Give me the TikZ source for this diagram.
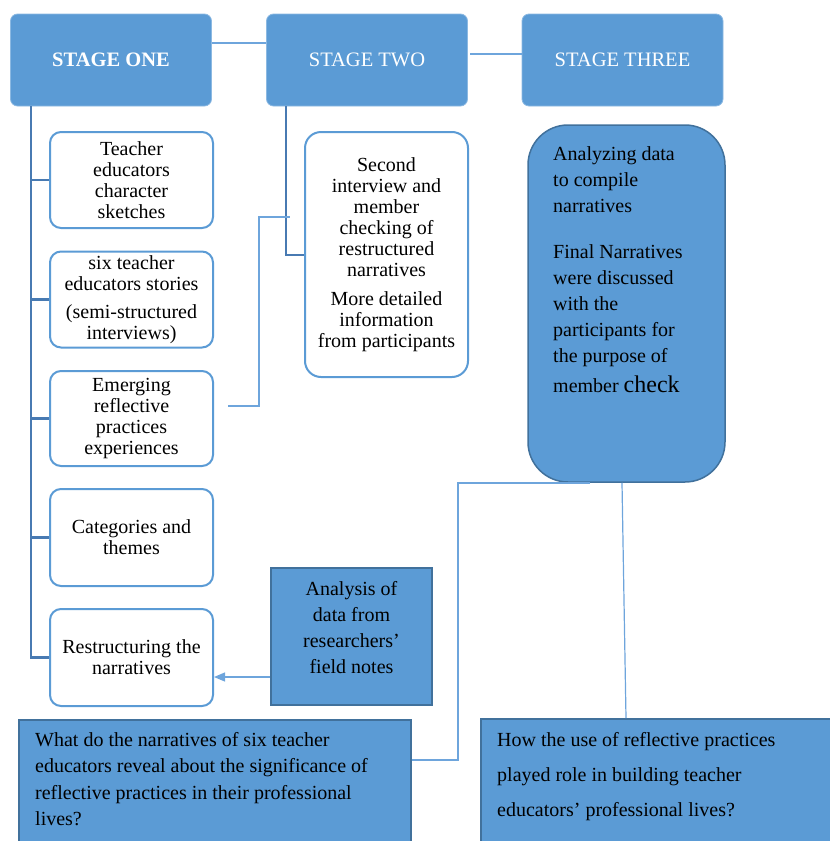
\documentclass[tikz,border=0pt]{standalone}
\usepackage{fontspec}
\setmainfont{Liberation Serif}
\usetikzlibrary{arrows.meta}
\definecolor{bfill}{RGB}{91,155,213}
\definecolor{bdark}{RGB}{65,113,156}
\definecolor{bline}{RGB}{110,165,220}
\definecolor{btrunk}{RGB}{72,122,178}
\begin{document}
\begin{tikzpicture}[x=1pt,y=-1pt,
  stagebox/.style={draw=bfill!70!white, line width=0.8pt, fill=bfill, rounded corners=7pt, text=white,
    minimum width=201pt, minimum height=92pt, inner sep=0pt, font=\fontsize{20.5}{21}\selectfont},
  childbox/.style={draw=bfill, line width=2pt, fill=white, rounded corners=11pt, minimum width=163pt,
    inner sep=0pt, align=center, font=\fontsize{20}{21}\selectfont},
  darkbox/.style={draw=bdark, line width=2pt, fill=bfill, inner sep=0pt},
  boxtext/.style={inner sep=0pt, font=\fontsize{20}{26}\selectfont},
  trunk/.style={draw=btrunk, line width=2.5pt},
  thinline/.style={draw=bline, line width=1.2pt}
]
\useasboundingbox (0,0) rectangle (830,841);
\clip (0,0) rectangle (830,841);

% stage boxes
\node[stagebox] (s1) at (111,60) {\textbf{STAGE ONE}};
\node[stagebox] (s2) at (367,60) {STAGE TWO};
\node[stagebox] (s3) at (622.5,60) {STAGE THREE};

% stage one children
\node[childbox, minimum height=96pt] (c1) at (131.5,180) {Teacher\\educators\\character\\sketches};
\node[childbox, minimum height=96pt] (c2) at (131.5,299.5) {six teacher\\educators stories\\[7pt](semi-structured\\interviews)};
\node[childbox, minimum height=95pt] (c3) at (131.5,418.5) {Emerging\\reflective\\practices\\experiences};
\node[childbox, minimum height=97pt] (c4) at (131.5,537.5) {Categories and\\themes};
\node[childbox, minimum height=97pt] (c5) at (131.5,657.5) {Restructuring the\\narratives};

% stage two child
\node[childbox, minimum height=245pt, rounded corners=16pt] (t2) at (386.5,254.5)
  {Second\\interview and\\member\\checking of\\restructured\\narratives\\[8pt]More detailed\\information\\from participants};

% stage three child
\node[darkbox, line width=1.5pt, rounded corners=40pt, minimum width=197pt, minimum height=357pt] (t3) at (626.5,303.5) {};
\node[boxtext, align=left, anchor=north west] (t3txt) at (553,146)
  {Analyzing data\\to compile\\narratives\\[20pt]Final Narratives\\were discussed\\with the\\participants for\\the purpose of\\[4pt]member {\fontsize{24}{26}\selectfont check}};

% analysis box
\node[darkbox, minimum width=161pt, minimum height=137pt] (an) at (351.5,636.5) {};
\node[boxtext, align=center] (antxt) at (351.5,628) {Analysis of\\data from\\researchers'\\field notes};

% question boxes
\node[darkbox, minimum width=392pt, minimum height=140pt, anchor=north west] (q1) at (18,719) {};
\node[boxtext, align=left, anchor=north west, font=\fontsize{20}{26.5}\selectfont] (q1txt) at (35,732)
  {What do the narratives of six teacher\\educators reveal about the significance of\\reflective practices in their professional\\lives?};
\node[darkbox, minimum width=380pt, minimum height=140pt, anchor=north west] (q2) at (480,718) {};
\node[boxtext, align=left, anchor=north west, font=\fontsize{20}{35}\selectfont] (q2txt) at (497,732)
  {How the use of reflective practices\\played role in building teacher\\educators' professional lives?};

% connectors between stages
\draw[thinline] (s1.east |- 0,43) -- (s2.west |- 0,43);
\coordinate (j23) at (470,54);
\draw[thinline] (j23) -- (s3.west |- j23);

% stage one trunk
\draw[trunk] (s1.south -| 31,0) |- (c5.west);
\foreach \c in {c1,c2,c3,c4}{\draw[trunk] (\c.west -| 31,0) -- (\c.west);}

% stage two trunk
\draw[trunk] (s2.south -| 286,0) |- (t2.west |- 0,255);

% emerging -> stage two
\coordinate (e1) at (228,406);
\coordinate (e2) at (290,217);
\draw[thinline] (e1) -| (259,0 |- e2) -- (e2);

% analysis -> restructuring
\draw[thinline, -{Triangle[length=11pt,width=9pt]}] (an.west |- 0,677) -- (c5.east |- 0,677);

% stage three -> questions
\draw[thinline] (t3.south -| 622,0) -- (q2.north -| 626,0);
\coordinate (k1) at (590,483);
\draw[thinline] (k1) -| (458,760) -- (q1.east |- 0,760);
\end{tikzpicture}
\end{document}
